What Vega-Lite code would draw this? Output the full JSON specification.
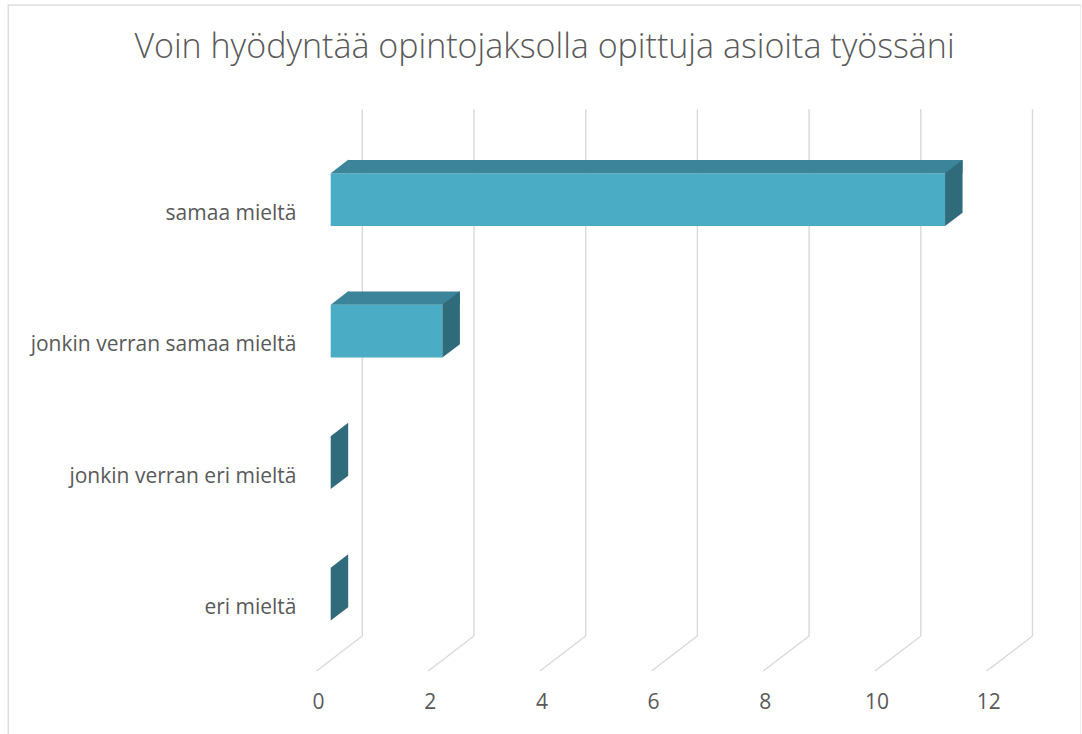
{
  "$schema": "https://vega.github.io/schema/vega-lite/v6.json",
  "width": 1073,
  "height": 735,
  "autosize": {"type": "none"},
  "padding": {"left": 8, "top": 5, "right": 0, "bottom": 0},
  "background": "white",
  "config": {"view": {"stroke": "#D9D9D9", "strokeWidth": 1.3}, "font": "Open Sans"},
  "title": {
    "text": "Voin hyödyntää opintojaksolla opittuja asioita työssäni",
    "anchor": "middle",
    "fontSize": 34,
    "font": "Open Sans",
    "fontWeight": 300,
    "color": "#595959",
    "baseline": "alphabetic",
    "offset": -87
  },
  "datasets": {
    "answers": [
      {"category": "samaa mieltä", "count": 11},
      {"category": "jonkin verran samaa mieltä", "count": 2},
      {"category": "jonkin verran eri mieltä", "count": 0},
      {"category": "eri mieltä", "count": 0}
    ],
    "ticks": [{"t": 0}, {"t": 2}, {"t": 4}, {"t": 6}, {"t": 8}, {"t": 10}, {"t": 12}]
  },
  "layer": [
    {
      "data": {"name": "ticks"},
      "mark": {"type": "rule", "color": "#D9D9D9", "strokeWidth": 1.4, "xOffset": 45.8, "yOffset": -104.2, "y2Offset": 28},
      "encoding": {
        "x": {"field": "t", "type": "quantitative",
          "scale": {"domain": [0, 12], "range": [308.5, 978.7], "nice": false, "zero": false},
          "axis": {"values": [0, 2, 4, 6, 8, 10, 12], "format": "d", "title": null, "domain": false, "ticks": false, "grid": false, "labelFontSize": 21, "labelColor": "#595959", "labelFont": "Open Sans", "offset": -38, "labelPadding": 0, "labelBaseline": "middle", "labelOffset": 1.5, "labelFlush": false, "labelOverlap": false}},
        "y": {"datum": "samaa mieltä", "type": "nominal",
          "scale": {"type": "band", "domain": ["samaa mieltä", "jonkin verran samaa mieltä", "jonkin verran eri mieltä", "eri mieltä"], "range": [142.75, 668.75], "paddingInner": 0, "paddingOuter": 0},
          "axis": {"title": null, "domain": false, "ticks": false, "grid": false, "labelFontSize": 21, "labelColor": "#595959", "labelFont": "Open Sans", "offset": -288, "labelPadding": 0, "labelAlign": "right", "labelBaseline": "middle", "labelLimit": 400}},
        "y2": {"datum": "eri mieltä"}
      }
    },
    {
      "data": {"name": "ticks"},
      "mark": {"type": "rule", "color": "#D9D9D9", "strokeWidth": 1.4, "x2Offset": 45.8, "yOffset": 63, "y2Offset": 28},
      "encoding": {
        "x": {"field": "t", "type": "quantitative"},
        "x2": {"field": "t"},
        "y": {"datum": "eri mieltä", "type": "nominal"},
        "y2": {"datum": "eri mieltä"}
      }
    },
    {
      "data": {"name": "answers"},
      "mark": {"type": "bar", "orient": "horizontal", "color": "#4BACC6", "size": 52.7, "yOffset": -13.85, "xOffset": 14.2, "x2Offset": 14.2},
      "encoding": {
        "x": {"field": "count", "type": "quantitative", "stack": null},
        "x2": {"datum": 0},
        "y": {"field": "category", "type": "nominal", "sort": null}
      }
    },
    {
      "data": {"name": "answers"},
      "mark": {"type": "bar", "orient": "horizontal", "color": "#3B8499", "size": 13.3, "yOffset": -46.85, "xOffset": 31.7, "x2Offset": 31.7},
      "encoding": {
        "x": {"field": "count", "type": "quantitative", "stack": null},
        "x2": {"datum": 0},
        "y": {"field": "category", "type": "nominal", "sort": null}
      }
    },
    {
      "data": {"name": "answers"},
      "transform": [{"filter": "datum.count > 0"}],
      "mark": {"type": "point", "shape": "M14.2,-40.35L31.7,-53.65L32.3,-53.65L32.3,-40.35Z", "size": 4, "filled": true, "opacity": 1, "color": "#3B8499", "strokeWidth": 0},
      "encoding": {
        "x": {"datum": 0, "type": "quantitative"},
        "y": {"field": "category", "type": "nominal", "sort": null}
      }
    },
    {
      "data": {"name": "answers"},
      "mark": {"type": "point", "shape": "M14.2,-40.35L31.7,-53.65L31.7,-0.85L14.2,12.5Z", "size": 4, "filled": true, "opacity": 1, "color": "#2F6B7A", "strokeWidth": 0},
      "encoding": {
        "x": {"field": "count", "type": "quantitative"},
        "y": {"field": "category", "type": "nominal", "sort": null}
      }
    }
  ]
}
